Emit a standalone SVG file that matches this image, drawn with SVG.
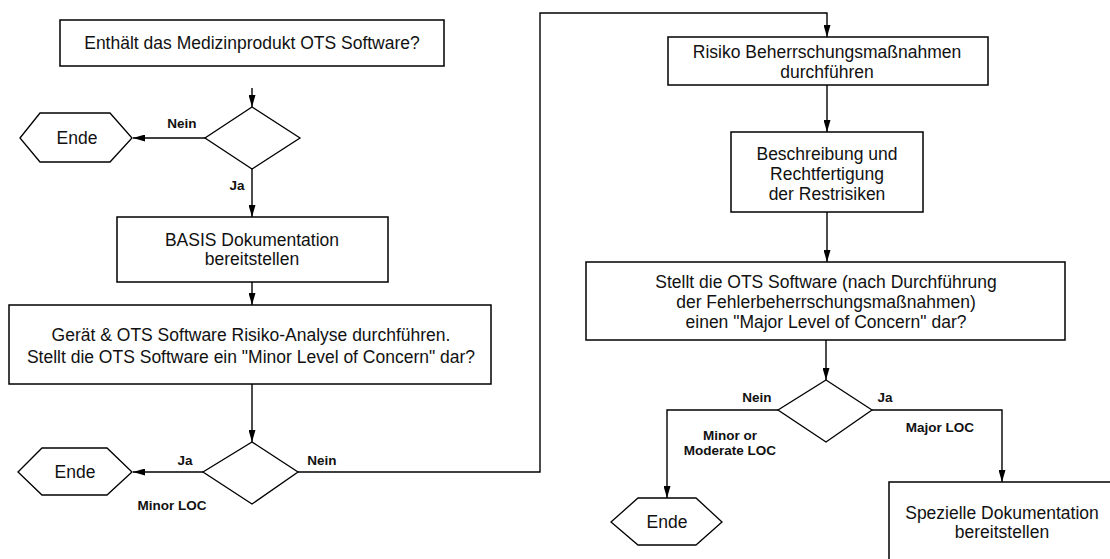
<svg xmlns="http://www.w3.org/2000/svg" width="1110" height="559" viewBox="0 0 1110 559">
  <style>
    .box { fill: #fff; stroke: #000; stroke-width: 1.5; }
    .dec { fill: #fff; stroke: #000; stroke-width: 1.3; }
    .wire { fill: none; stroke: #000; stroke-width: 1.4; }
    .t { font-family: "Liberation Sans", Arial, sans-serif; font-size: 17.5px; fill: #111; text-anchor: middle; }
    .lbl { font-family: "Liberation Sans", Arial, sans-serif; font-size: 13.5px; font-weight: bold; fill: #111; text-anchor: middle; }
  </style>
  <defs>
    <marker id="arr" viewBox="0 0 12 7" refX="12" refY="3.5" markerWidth="12" markerHeight="7" markerUnits="userSpaceOnUse" orient="auto">
      <path d="M0,0 L12,3.5 L0,7 z" fill="#000"/>
    </marker>
  </defs>
  <rect width="1110" height="559" fill="#fff"/>

  <!-- connectors -->
  <g id="connectors" class="wire" marker-end="url(#arr)">
    <path d="M252,88 L252,107"/>
    <path d="M205,138 L133,138"/>
    <path d="M252,169 L252,217"/>
    <path d="M252,282 L252,305"/>
    <path d="M252,384 L252,442"/>
    <path d="M203,472 L133,472"/>
    <path d="M298,472 L540,472 L540,13 L827,13 L827,37"/>
    <path d="M827,85 L827,132"/>
    <path d="M827,212 L827,262"/>
    <path d="M826,340 L826,380"/>
    <path d="M778,410 L667,410 L667,498"/>
    <path d="M872,410 L1002,410 L1002,482"/>
  </g>

  <!-- edge labels -->
  <g id="labels">
    <text class="lbl" x="182" y="128">Nein</text>
    <text class="lbl" x="237" y="190">Ja</text>
    <text class="lbl" x="185" y="465">Ja</text>
    <text class="lbl" x="172" y="510">Minor LOC</text>
    <text class="lbl" x="322" y="465">Nein</text>
    <text class="lbl" x="757" y="402">Nein</text>
    <text class="lbl" x="730" y="440">Minor or</text>
    <text class="lbl" x="730" y="455">Moderate LOC</text>
    <text class="lbl" x="885" y="402">Ja</text>
    <text class="lbl" x="940" y="432">Major LOC</text>
  </g>

  <g id="start">
    <rect class="box" x="60" y="20" width="384" height="46"/>
    <text class="t" x="252" y="49">Enthält das Medizinprodukt OTS Software?</text>
  </g>

  <g id="decision-ots">
    <polygon class="dec" points="252,107 300,138 252,169 205,138"/>
  </g>

  <g id="end-1">
    <polygon class="dec" points="20,138 40,113 110,113 132,138 110,162 40,162"/>
    <text class="t" x="77" y="144">Ende</text>
  </g>

  <g id="basis-doc">
    <rect class="box" x="117" y="217" width="271" height="65"/>
    <text class="t" x="252" y="246">BASIS Dokumentation</text>
    <text class="t" x="252" y="265">bereitstellen</text>
  </g>

  <g id="risk-analysis">
    <rect class="box" x="9" y="305" width="482" height="79"/>
    <text class="t" x="251" y="341">Gerät &amp; OTS Software Risiko-Analyse durchführen.</text>
    <text class="t" x="251" y="363">Stellt die OTS Software ein "Minor Level of Concern" dar?</text>
  </g>

  <g id="decision-minor">
    <polygon class="dec" points="252,442 298,472 252,504 203,472"/>
  </g>

  <g id="end-2">
    <polygon class="dec" points="18,472 42,448 107,448 132,472 107,495 42,495"/>
    <text class="t" x="75" y="478">Ende</text>
  </g>

  <g id="risk-control">
    <rect class="box" x="668" y="37" width="320" height="48"/>
    <text class="t" x="827" y="58">Risiko Beherrschungsmaßnahmen</text>
    <text class="t" x="827" y="78">durchführen</text>
  </g>

  <g id="residual-risk">
    <rect class="box" x="731" y="132" width="192" height="80"/>
    <text class="t" x="827" y="160">Beschreibung und</text>
    <text class="t" x="827" y="180">Rechtfertigung</text>
    <text class="t" x="827" y="200">der Restrisiken</text>
  </g>

  <g id="major-question">
    <rect class="box" x="586" y="262" width="479" height="78"/>
    <text class="t" x="826" y="288">Stellt die OTS Software (nach Durchführung</text>
    <text class="t" x="826" y="308">der Fehlerbeherrschungsmaßnahmen)</text>
    <text class="t" x="826" y="328">einen "Major Level of Concern" dar?</text>
  </g>

  <g id="decision-major">
    <polygon class="dec" points="826,380 872,410 826,442 778,410"/>
  </g>

  <g id="end-3">
    <polygon class="dec" points="611,522 638,498 696,498 722,522 696,545 638,545"/>
    <text class="t" x="667" y="528">Ende</text>
  </g>

  <g id="special-doc">
    <rect class="box" x="889" y="482" width="260" height="110"/>
    <text class="t" x="1002" y="519">Spezielle Dokumentation</text>
    <text class="t" x="1002" y="538">bereitstellen</text>
  </g>
</svg>
